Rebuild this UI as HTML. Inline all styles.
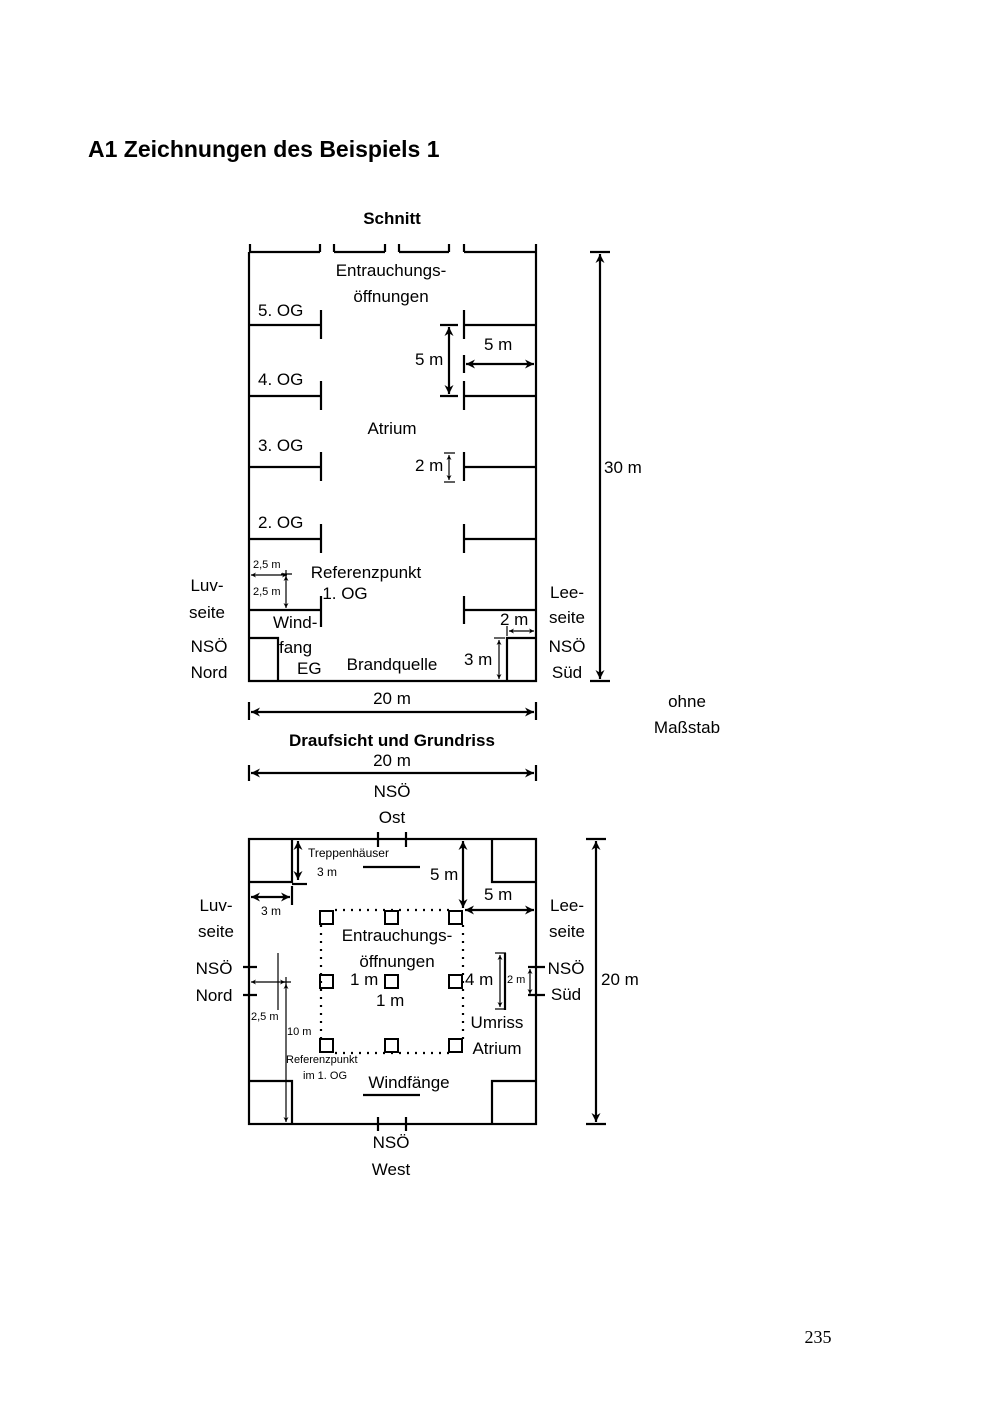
<!DOCTYPE html>
<html><head><meta charset="utf-8"><style>
html,body{margin:0;padding:0;background:#fff}
svg{display:block}
text{font-family:"Liberation Sans",sans-serif;fill:#000}
</style></head><body>
<svg width="1000" height="1414" viewBox="0 0 1000 1414" xmlns="http://www.w3.org/2000/svg">
<defs>
<marker id="a" viewBox="0 0 10 10" refX="10" refY="5" markerWidth="9" markerHeight="9" orient="auto-start-reverse" markerUnits="userSpaceOnUse"><path d="M0,0 L10,5 L0,10 L3,5 z" fill="#000"/></marker>
<marker id="s" viewBox="0 0 10 10" refX="10" refY="5" markerWidth="5" markerHeight="5" orient="auto-start-reverse" markerUnits="userSpaceOnUse"><path d="M0,0 L10,5 L0,10 L3,5 z" fill="#000"/></marker>
</defs>
<text x="88" y="157" font-size="23" font-weight="bold">A1 Zeichnungen des Beispiels 1</text>
<text x="392" y="224" font-size="17" font-weight="bold" text-anchor="middle">Schnitt</text>

<g stroke="#000" stroke-width="2.2" fill="none">
<!-- Schnitt outline -->
<path d="M249,252 V681 H536 V252"/>
<path d="M249,252 H320 M334,252 H385 M399,252 H449 M464,252 H536"/>
<path d="M250,244 V252 M320,244 V252 M334,244 V252 M385,244 V252 M399,244 V252 M449,244 V252 M464,244 V252 M536,244 V252"/>
<!-- floors left -->
<path d="M249,325 H321 M321,310 V339"/>
<path d="M249,396 H321 M321,381 V410"/>
<path d="M249,467 H321 M321,452 V481"/>
<path d="M249,539 H321 M321,524 V553"/>
<path d="M249,610 H321 M321,596 V627"/>
<!-- floors right -->
<path d="M464,325 H536 M464,310 V339"/>
<path d="M464,396 H536 M464,381 V410 M464,355 V373"/>
<path d="M464,467 H536 M464,452 V481"/>
<path d="M464,539 H536 M464,524 V553"/>
<path d="M464,610 H536 M464,596 V624"/>
<!-- EG boxes -->
<path d="M249,638 H278 V681"/>
<path d="M536,638 H507 V681"/>
<!-- dims -->
<path d="M440,325 H458 M440,396 H458"/>
<path d="M449,327 V394" marker-start="url(#a)" marker-end="url(#a)"/>
<path d="M466,364 H534" marker-start="url(#a)" marker-end="url(#a)"/>
<path d="M590,252 H610 M590,681 H610"/>
<path d="M600,254 V679" marker-start="url(#a)" marker-end="url(#a)"/>
<path d="M249,702 V720 M536,702 V720"/>
<path d="M251,712 H534" marker-start="url(#a)" marker-end="url(#a)"/>
</g>
<g stroke="#000" stroke-width="1.2" fill="none">
<path d="M444,453 H455 M444,482 H455"/>
<path d="M449,455 V480" marker-start="url(#s)" marker-end="url(#s)"/>
<path d="M251,575 H287" marker-end="url(#s)" marker-start="url(#s)"/>
<path d="M281,574 H292 M286,570 V580"/>
<path d="M286,576 V608" marker-start="url(#s)" marker-end="url(#s)"/>
<path d="M507,626 V636 M536,626 V636"/>
<path d="M509,631 H534" marker-start="url(#s)" marker-end="url(#s)"/>
<path d="M494,638 H505"/>
<path d="M499,640 V679" marker-start="url(#s)" marker-end="url(#s)"/>
</g>
<g font-size="17">
<text x="391" y="276" text-anchor="middle">Entrauchungs-</text>
<text x="391" y="302" text-anchor="middle">öffnungen</text>
<text x="258" y="316">5. OG</text>
<text x="258" y="385">4. OG</text>
<text x="258" y="451">3. OG</text>
<text x="258" y="528">2. OG</text>
<text x="415" y="365">5 m</text>
<text x="484" y="350">5 m</text>
<text x="392" y="434" text-anchor="middle">Atrium</text>
<text x="415" y="471">2 m</text>
<text x="604" y="473">30 m</text>
<text x="366" y="578" text-anchor="middle">Referenzpunkt</text>
<text x="345" y="599" text-anchor="middle">1. OG</text>
<text x="207" y="591" text-anchor="middle">Luv-</text>
<text x="207" y="618" text-anchor="middle">seite</text>
<text x="209" y="652" text-anchor="middle">NSÖ</text>
<text x="209" y="678" text-anchor="middle">Nord</text>
<text x="273" y="628">Wind-</text>
<text x="279" y="653">fang</text>
<text x="297" y="674">EG</text>
<text x="392" y="670" text-anchor="middle">Brandquelle</text>
<text x="464" y="665">3 m</text>
<text x="500" y="625">2 m</text>
<text x="567" y="598" text-anchor="middle">Lee-</text>
<text x="567" y="623" text-anchor="middle">seite</text>
<text x="567" y="652" text-anchor="middle">NSÖ</text>
<text x="567" y="678" text-anchor="middle">Süd</text>
<text x="392" y="704" text-anchor="middle">20 m</text>
<text x="687" y="707" text-anchor="middle">ohne</text>
<text x="687" y="733" text-anchor="middle">Maßstab</text>
<text x="392" y="766" text-anchor="middle">20 m</text>
<text x="392" y="797" text-anchor="middle">NSÖ</text>
<text x="392" y="823" text-anchor="middle">Ost</text>
</g>
<g font-size="11">
<text x="253" y="568">2,5 m</text>
<text x="253" y="595">2,5 m</text>
</g>
<text x="392" y="746" font-size="17" font-weight="bold" text-anchor="middle">Draufsicht und Grundriss</text>

<!-- Plan -->
<g stroke="#000" stroke-width="2.2" fill="none">
<path d="M249,773 V781 M536,765 V781 M249,765 V781"/>
<path d="M251,773 H534" marker-start="url(#a)" marker-end="url(#a)"/>
<rect x="249" y="839" width="287" height="285"/>
<path d="M249,882 H292 V839 M536,882 H492 V839 M249,1081 H292 V1124 M536,1081 H492 V1124"/>
<path d="M378,832 V847 M406,832 V847 M378,1117 V1131 M406,1117 V1131"/>
<path d="M363,867 H420 M363,1095 H420"/>
<path d="M292,884 H307"/>
<path d="M298,841 V880" marker-start="url(#a)" marker-end="url(#a)"/>
<path d="M292,886 V905"/>
<path d="M251,897 H290" marker-start="url(#a)" marker-end="url(#a)"/>
<path d="M463,841 V908" marker-start="url(#a)" marker-end="url(#a)"/>
<path d="M465,910 H534" marker-start="url(#a)" marker-end="url(#a)"/>
<path d="M586,839 H606 M586,1124 H606"/>
<path d="M596,841 V1122" marker-start="url(#a)" marker-end="url(#a)"/>
<path d="M243,967 H257 M243,995 H257 M528,967 H545 M528,995 H545"/>
<path d="M505,953 V1010"/>
<g stroke-width="2">
<rect x="320" y="911" width="13" height="13"/><rect x="385" y="911" width="13" height="13"/><rect x="449" y="911" width="13" height="13"/>
<rect x="320" y="975" width="13" height="13"/><rect x="385" y="975" width="13" height="13"/><rect x="449" y="975" width="13" height="13"/>
<rect x="320" y="1039" width="13" height="13"/><rect x="385" y="1039" width="13" height="13"/><rect x="449" y="1039" width="13" height="13"/>
</g>
<path d="M335,910 H449 M463,925 V1040 M321,925 V1040 M335,1053 H449" stroke-dasharray="2,6" stroke-width="2.2"/>
</g>
<g stroke="#000" stroke-width="1.2" fill="none">
<path d="M495,953 H506 M495,1009 H506"/>
<path d="M500,955 V1007" marker-start="url(#s)" marker-end="url(#s)"/>
<path d="M530,969 V994" marker-start="url(#s)" marker-end="url(#s)"/>
<path d="M278,953 V1010"/>
<path d="M251,982 H285" marker-start="url(#s)" marker-end="url(#s)"/>
<path d="M281,982 H291 M286,977 V987"/>
<path d="M286,984 V1122" marker-start="url(#s)" marker-end="url(#s)"/>
</g>
<g font-size="17">
<text x="430" y="880">5 m</text>
<text x="484" y="900">5 m</text>
<text x="216" y="911" text-anchor="middle">Luv-</text>
<text x="216" y="937" text-anchor="middle">seite</text>
<text x="567" y="911" text-anchor="middle">Lee-</text>
<text x="567" y="937" text-anchor="middle">seite</text>
<text x="397" y="941" text-anchor="middle">Entrauchungs-</text>
<text x="397" y="967" text-anchor="middle">öffnungen</text>
<text x="350" y="985">1 m</text>
<text x="376" y="1006">1 m</text>
<text x="465" y="985">4 m</text>
<text x="214" y="974" text-anchor="middle">NSÖ</text>
<text x="214" y="1001" text-anchor="middle">Nord</text>
<text x="566" y="974" text-anchor="middle">NSÖ</text>
<text x="566" y="1000" text-anchor="middle">Süd</text>
<text x="601" y="985">20 m</text>
<text x="497" y="1028" text-anchor="middle">Umriss</text>
<text x="497" y="1054" text-anchor="middle">Atrium</text>
<text x="409" y="1088" text-anchor="middle">Windfänge</text>
<text x="391" y="1148" text-anchor="middle">NSÖ</text>
<text x="391" y="1175" text-anchor="middle">West</text>
</g>
<g font-size="12">
<text x="308" y="857">Treppenhäuser</text>
<text x="317" y="876">3 m</text>
<text x="261" y="915">3 m</text>
</g>
<g font-size="11">
<text x="251" y="1020">2,5 m</text>
<text x="287" y="1035">10 m</text>
<text x="286" y="1063">Referenzpunkt</text>
<text x="303" y="1079">im 1. OG</text>
<text x="507" y="983">2 m</text>
</g>
<text x="818" y="1343" font-size="18" font-family="Liberation Serif" text-anchor="middle" style="font-family:'Liberation Serif',serif">235</text>
</svg>
</body></html>
